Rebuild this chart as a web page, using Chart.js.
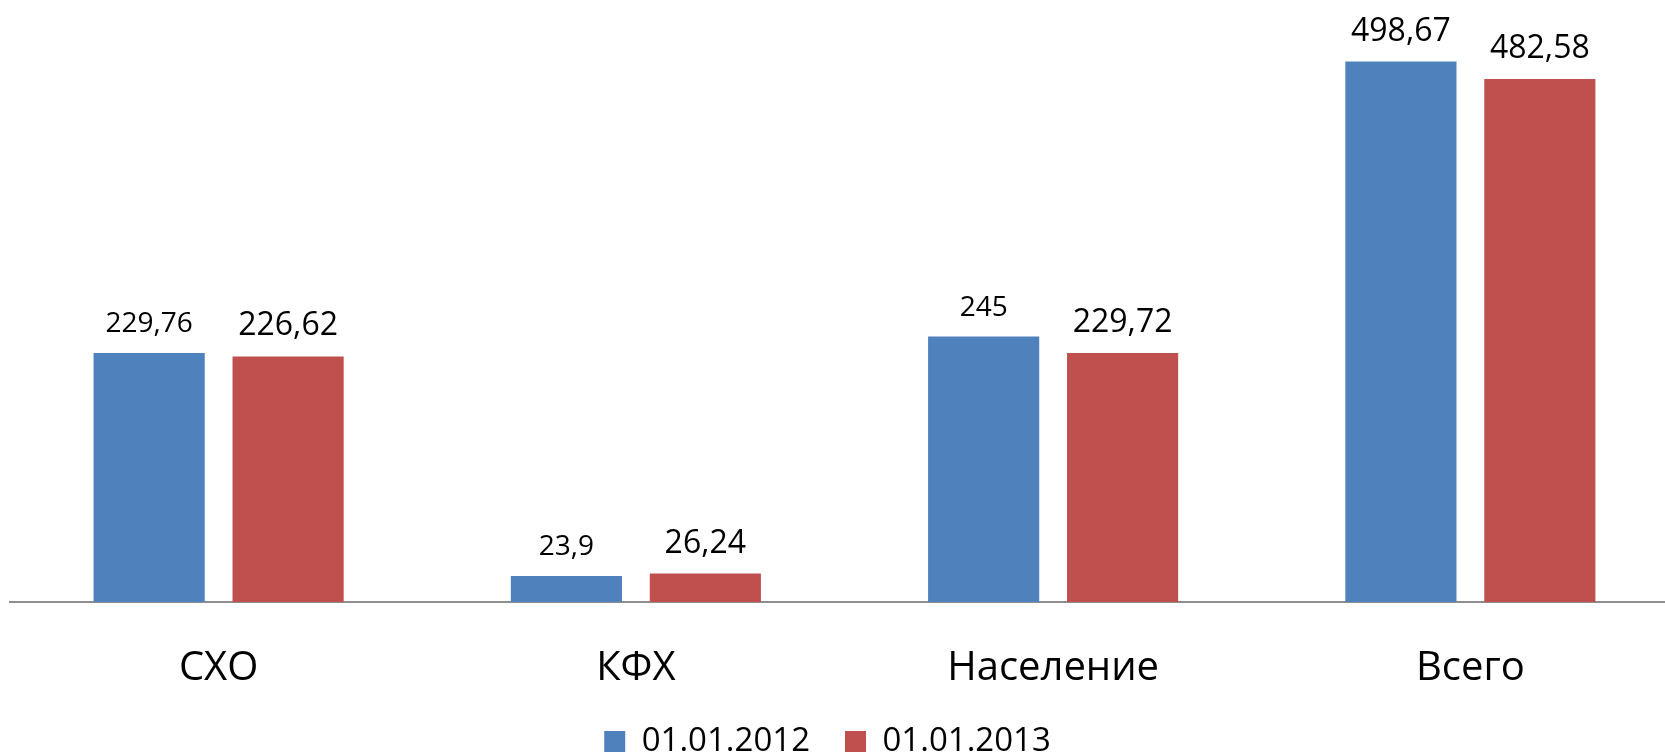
<!DOCTYPE html>
<html>
<head>
<meta charset="utf-8">
<script src="https://cdn.jsdelivr.net/npm/chart.js@4"></script>
<style>
  html, body { margin: 0; padding: 0; background: #fff; overflow: hidden; }
  #wrap { width: 1679px; height: 768px; position: relative; }
</style>
</head>
<body>
<div id="wrap"><canvas id="c"></canvas></div>
<script>
const categories = ['СХО', 'КФХ', 'Население', 'Всего'];
const seriesNames = ['01.01.2012', '01.01.2013'];
const values2012 = [229.76, 23.9, 245, 498.67];
const values2013 = [226.62, 26.24, 229.72, 482.58];
const labelSizes2012 = [28, 28, 28, 32];
const labelSizes2013 = [32, 32, 32, 32];

const FONT = "'Open Sans', sans-serif";

const valueLabels = {
  id: 'valueLabels',
  afterDatasetsDraw(chart) {
    const ctx = chart.ctx;
    ctx.save();
    ctx.fillStyle = '#000';
    ctx.textAlign = 'center';
    ctx.textBaseline = 'alphabetic';
    chart.data.datasets.forEach((ds, di) => {
      const meta = chart.getDatasetMeta(di);
      meta.data.forEach((el, i) => {
        const size = ds.labelSizes[i];
        ctx.font = size + 'px ' + FONT;
        const txt = String(ds.data[i]).replace('.', ',');
        ctx.fillText(txt, el.x, el.y - 21);
      });
    });
    ctx.restore();
  }
};

const legendShift = {
  id: 'legendShift',
  afterLayout(chart) {
    const lg = chart.legend;
    if (lg) { lg.left -= 17; lg.right -= 17; }
  }
};

new Chart(document.getElementById('c'), {
  type: 'bar',
  data: {
    labels: categories,
    datasets: [
      { label: seriesNames[0], data: values2012, backgroundColor: '#4F81BD', labelSizes: labelSizes2012 },
      { label: seriesNames[1], data: values2013, backgroundColor: '#C0504D', labelSizes: labelSizes2013 }
    ]
  },
  options: {
    responsive: true,
    maintainAspectRatio: false,
    animation: false,
    devicePixelRatio: 1,
    categoryPercentage: 0.666,
    barPercentage: 0.8,
    layout: { padding: { top: 6, left: 10, right: 0, bottom: 0 } },
    plugins: {
      tooltip: { enabled: false },
      legend: {
        position: 'bottom',
        labels: {
          boxWidth: 21, boxHeight: 21, padding: 35,
          color: '#000',
          font: { family: FONT, size: 33 }
        }
      }
    },
    scales: {
      x: {
        grid: { display: false, drawTicks: false },
        border: { display: true, color: '#8E8E8E', width: 2 },
        ticks: { color: '#000', font: { family: FONT, size: 40 }, padding: 43, maxRotation: 0 },
        afterFit(scale) { scale.height = 88; }
      },
      y: {
        display: false,
        min: 0, max: 550
      }
    }
  },
  plugins: [valueLabels, legendShift]
});
</script>
</body>
</html>
